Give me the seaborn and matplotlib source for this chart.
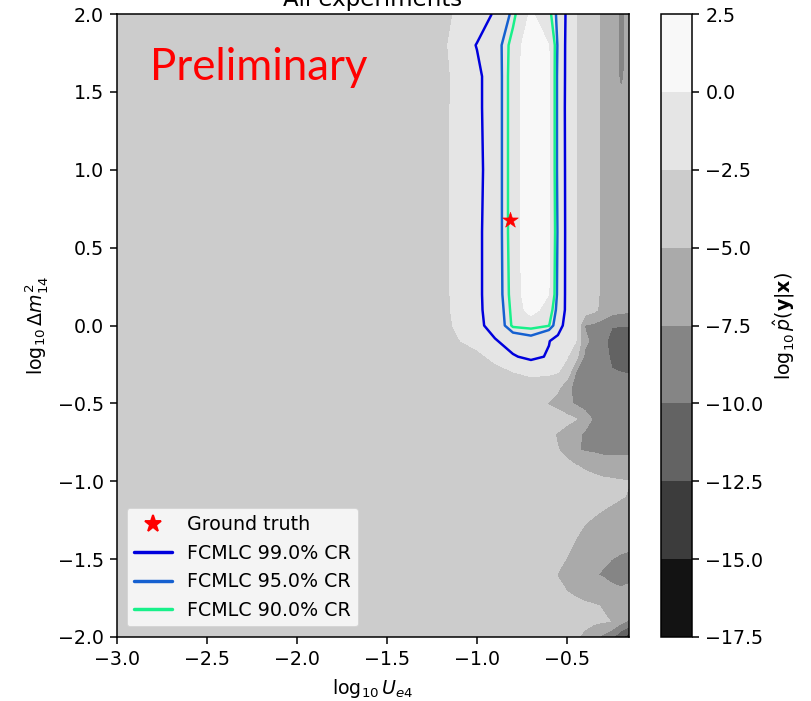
import numpy as np
import matplotlib
matplotlib.use("Agg")
import matplotlib.pyplot as plt
from matplotlib.lines import Line2D
import seaborn as sns

# Achsen des Gitters
log_ue4 = [-3.0, -2.0, -1.5, -1.2, -1.1, -1.0, -0.9, -0.8, -0.7, -0.6, -0.55,
           -0.5, -0.45, -0.4, -0.35, -0.3, -0.25, -0.2, -0.155]
log_dm2 = [2.0, 1.8, 1.6, 1.4, 1.0, 0.6, 0.2, 0.1, 0.0, -0.1, -0.2, -0.3, -0.4,
           -0.5, -0.6, -0.7, -0.8, -0.9, -1.0, -1.1, -1.2, -1.4, -1.6, -1.8, -1.9, -2.0]

# log10 p(y|x), eine Zeile pro log_dm2-Wert (oben -> unten)
log_p = [
    [-3.5, -3.5, -3.45, -2.9, -2.3, -2.0, -1.55, -0.75, 0.1, -0.5, -1.0, -1.75, -2.4, -3.5, -4.3, -5.5, -6.2, -8.0, -6.8],
    [-3.5, -3.5, -3.45, -2.8, -2.0, -1.6, -1.15, -0.45, 0.5, 0.0, -0.95, -1.8, -2.4, -3.5, -4.3, -5.5, -6.2, -8.1, -6.8],
    [-3.5, -3.5, -3.45, -3.0, -2.05, -1.8, -1.2, -0.4, 0.6, 0.05, -1.0, -1.8, -2.4, -3.5, -4.3, -5.5, -6.2, -7.9, -6.8],
    [-3.5, -3.5, -3.45, -3.0, -2.0, -1.8, -1.2, -0.4, 0.6, 0.05, -1.0, -1.82, -2.4, -3.5, -4.3, -5.5, -6.2, -6.9, -6.8],
    [-3.5, -3.5, -3.45, -3.0, -2.0, -1.85, -1.2, -0.4, 0.6, 0.05, -1.0, -1.8, -2.4, -3.5, -4.3, -5.5, -6.2, -6.6, -6.8],
    [-3.5, -3.5, -3.45, -3.0, -2.0, -1.8, -1.2, -0.4, 0.6, 0.08, -0.95, -1.8, -2.4, -3.5, -4.3, -5.5, -6.2, -6.6, -6.8],
    [-3.5, -3.5, -3.45, -3.0, -2.0, -1.8, -1.2, -0.45, 0.5, 0.0, -1.0, -1.8, -2.4, -3.5, -4.3, -5.5, -6.2, -6.6, -6.8],
    [-3.5, -3.5, -3.45, -3.0, -2.05, -1.8, -1.25, -0.5, 0.3, -0.35, -1.05, -1.8, -2.4, -3.6, -4.5, -5.7, -6.4, -6.8, -7.0],
    [-3.5, -3.5, -3.45, -3.05, -2.2, -1.85, -1.3, -0.55, -0.5, -0.6, -1.2, -2.0, -2.45, -7.6, -8.0, -8.6, -9.9, -9.95, -9.95],
    [-3.5, -3.5, -3.45, -3.3, -2.55, -2.1, -1.7, -1.3, -1.1, -1.6, -1.9, -2.2, -2.45, -7.0, -8.2, -9.5, -10.6, -10.8, -10.8],
    [-3.5, -3.5, -3.5, -3.4, -3.1, -2.8, -2.2, -1.7, -1.45, -1.7, -2.0, -2.35, -4.2, -8.0, -8.3, -9.3, -10.3, -10.6, -10.6],
    [-3.5, -3.5, -3.5, -3.5, -3.4, -3.2, -2.9, -2.52, -2.3, -2.35, -2.45, -3.3, -7.6, -8.3, -8.6, -9.2, -9.9, -10.0, -10.05],
    [-3.5, -3.5, -3.5, -3.5, -3.5, -3.5, -3.4, -3.2, -3.0, -3.1, -4.6, -6.8, -8.2, -8.5, -8.8, -9.0, -9.3, -9.5, -9.6],
    [-3.5, -3.5, -3.5, -3.5, -3.5, -3.5, -3.5, -3.4, -3.2, -5.2, -6.0, -7.0, -7.8, -8.4, -8.8, -9.0, -9.2, -9.3, -9.4],
    [-3.5, -3.5, -3.5, -3.5, -3.5, -3.5, -3.5, -3.4, -3.1, -3.2, -3.5, -4.2, -4.9, -6.5, -7.8, -8.5, -8.8, -9.0, -9.2],
    [-3.5, -3.5, -3.5, -3.5, -3.5, -3.5, -3.5, -3.4, -3.0, -4.2, -5.3, -6.2, -7.0, -7.8, -8.2, -8.4, -8.5, -8.6, -8.7],
    [-3.5, -3.5, -3.5, -3.5, -3.5, -3.5, -3.5, -3.5, -3.3, -3.8, -4.9, -5.6, -7.3, -7.7, -7.9, -8.3, -8.3, -8.3, -8.3],
    [-3.5, -3.5, -3.5, -3.5, -3.5, -3.5, -3.5, -3.5, -3.4, -3.5, -4.0, -4.5, -4.9, -5.3, -5.6, -5.8, -5.9, -6.0, -6.0],
    [-3.5, -3.5, -3.5, -3.5, -3.5, -3.5, -3.5, -3.5, -3.5, -3.4, -3.6, -3.8, -4.0, -4.3, -4.5, -4.7, -4.8, -4.9, -4.95],
    [-3.5, -3.5, -3.5, -3.5, -3.5, -3.5, -3.5, -3.5, -3.5, -3.4, -3.5, -3.6, -3.8, -4.0, -4.2, -4.4, -4.6, -4.9, -5.1],
    [-3.5, -3.5, -3.5, -3.5, -3.5, -3.5, -3.5, -3.5, -3.5, -3.5, -3.6, -3.7, -4.0, -4.5, -4.8, -5.1, -5.4, -5.6, -5.7],
    [-3.5, -3.5, -3.5, -3.5, -3.5, -3.5, -3.5, -3.5, -3.5, -3.4, -3.8, -4.4, -5.2, -5.8, -6.3, -6.7, -7.0, -7.2, -7.3],
    [-3.5, -3.5, -3.5, -3.5, -3.5, -3.5, -3.5, -3.5, -3.6, -4.2, -5.1, -5.8, -6.3, -6.8, -7.3, -7.7, -8.0, -8.1, -8.1],
    [-3.5, -3.5, -3.5, -3.5, -3.5, -3.5, -3.5, -3.5, -3.5, -3.6, -4.0, -4.3, -4.5, -4.7, -4.85, -5.1, -6.2, -6.6, -6.0],
    [-3.5, -3.5, -3.5, -3.5, -3.5, -3.5, -3.5, -3.5, -3.5, -3.5, -3.6, -3.9, -4.2, -4.4, -4.6, -4.8, -5.05, -6.8, -7.8],
    [-3.5, -3.5, -3.5, -3.5, -3.5, -3.5, -3.5, -3.5, -3.5, -3.5, -3.7, -4.4, -4.8, -5.5, -6.7, -8.1, -9.6, -12.0, -14.0],
]

fill_levels = [-17.5, -15.0, -12.5, -10.0, -7.5, -5.0, -2.5, 0.0, 2.5]

# Konfidenzbereiche (aufsteigende Schwellen: 99 %, 95 %, 90 %)
cr_levels = [-1.63, -0.89, -0.62]
cr_labels = ["FCMLC 99.0% CR", "FCMLC 95.0% CR", "FCMLC 90.0% CR"]
cr_colors = ["#0000dd", "#1560d0", "#18f08a"]

truth_ue4 = [-0.815]
truth_dm2 = [0.68]

sns.set_theme(style="ticks", rc={
    "font.size": 10, "axes.labelsize": 10, "axes.titlesize": 12,
    "xtick.labelsize": 10, "ytick.labelsize": 10, "legend.fontsize": 10,
    "axes.edgecolor": "black", "axes.labelcolor": "black", "text.color": "black",
    "xtick.color": "black", "ytick.color": "black", "axes.linewidth": 0.8,
    "xtick.major.size": 3.5, "ytick.major.size": 3.5,
    "xtick.major.width": 0.8, "ytick.major.width": 0.8,
})
plt.rcParams["font.family"] = ["DejaVu Sans"]
plt.rcParams["mathtext.fontset"] = "dejavusans"

X = np.array(log_ue4)
Y = np.array(log_dm2)[::-1]
Z = np.array(log_p)[::-1]

fig = plt.figure(figsize=(811 / 137, 701 / 137), dpi=137)
ax = fig.add_axes([0.1443, 0.0913, 0.6313, 0.8887])
cax = fig.add_axes([0.8151, 0.0913, 0.0382, 0.8887])

cf = ax.contourf(X, Y, Z, levels=fill_levels, cmap="Greys_r")
ax.contour(X, Y, Z, levels=cr_levels, colors=cr_colors, linewidths=1.3)

sns.scatterplot(x=truth_ue4, y=truth_dm2, marker="*", s=75, color="red",
                edgecolor="red", linewidth=0.3, ax=ax, zorder=5, legend=False)

ax.set_xlim(X.min(), X.max())
ax.set_ylim(-2.0, 2.0)
ax.set_xlabel(r"$\log_{10}U_{e4}$")
ax.set_ylabel(r"$\log_{10}\Delta m^2_{14}$")
ax.set_title("All experiments", pad=4)

ax.text(0.064, 0.894, "Preliminary", color="red", fontsize=23, family="Lato",
        transform=ax.transAxes, va="baseline")

handles = [Line2D([], [], marker="*", color="red", linestyle="none", markersize=9)]
labels = ["Ground truth"]
for lab, col in zip(cr_labels, cr_colors):
    handles.append(Line2D([], [], color=col, lw=1.8))
    labels.append(lab)
ax.legend(handles, labels, loc="lower left", framealpha=0.8)

cbar = fig.colorbar(cf, cax=cax)
cbar.set_ticks(fill_levels)
cbar.set_label(r"$\log_{10}\hat{p}(\mathbf{y}|\mathbf{x})$")

fig.savefig("out.png", dpi=137)
